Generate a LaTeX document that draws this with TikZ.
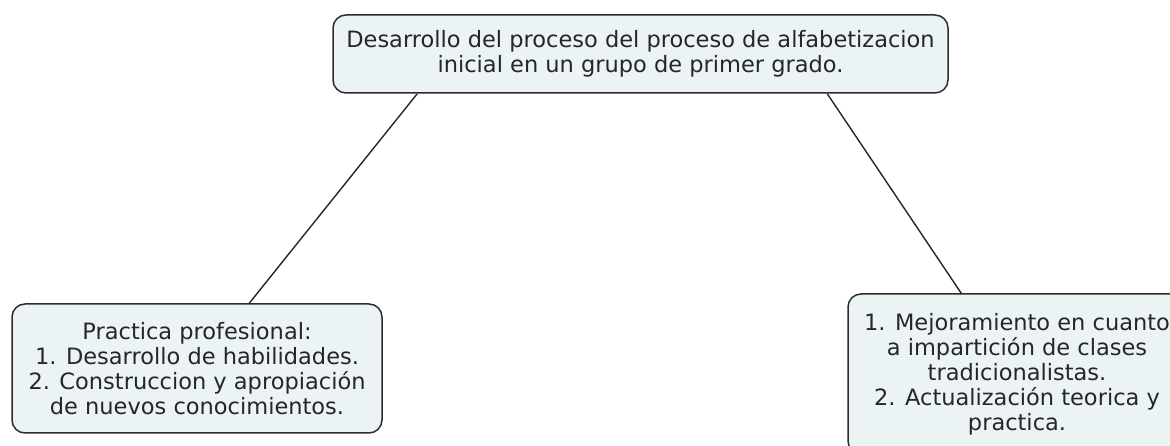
\documentclass[tikz,border=0pt]{standalone}
\usepackage{fontspec}
\setmainfont{DejaVu Sans}
\usetikzlibrary{positioning}
\definecolor{cajafondo}{RGB}{236,243,245}
\definecolor{cajaborde}{RGB}{45,45,45}

\begin{document}
\begin{tikzpicture}[x=1pt,y=1pt,on grid,
    concepto/.style={draw=cajaborde,fill=cajafondo,rounded corners=13pt,line width=1.5pt,
      align=center,inner sep=0pt,font=\fontsize{22.5}{25}\selectfont,text=black!85},
    enlace/.style={draw=black!85,line width=1.4pt}]
    \useasboundingbox (0,0) rectangle (1170,446);
    \clip (0,0) rectangle (1170,446);
    \node[concepto,minimum width=615pt,minimum height=78pt] (tema) at (640.5,392)
      {Desarrollo del proceso del proceso de alfabetizacion\\inicial en un grupo de primer grado.};
    \node[concepto,minimum width=370pt,minimum height=129pt] (practica) [below left=314.5pt and 443.5pt of tema]
      {Practica profesional:\\1. Desarrollo de habilidades.\\2. Construccion y apropiación\\de nuevos conocimientos.};
    \node[concepto,minimum width=338pt,minimum height=160pt] (mejora) [below right=320pt and 376.5pt of tema]
      {1. Mejoramiento en cuanto\\a impartición de clases\\tradicionalistas.\\2. Actualización teorica y\\practica.};
    \path[enlace]
    ([xshift=85pt]tema.south west) edge ([xshift=238pt]practica.north west)
    ([xshift=495pt]tema.south west) edge ([xshift=114pt]mejora.north west);
\end{tikzpicture}
\end{document}
